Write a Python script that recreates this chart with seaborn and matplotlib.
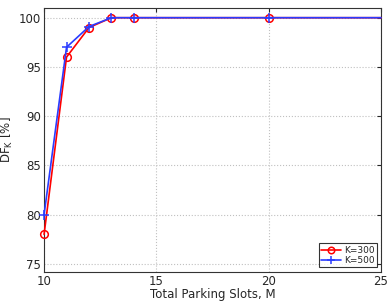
import pandas as pd
import numpy as np
import matplotlib.pyplot as plt
import seaborn as sns

slots = [10, 11, 12, 13, 14, 20, 25]
df_k300 = [78.0, 96.0, 99.0, 100.0, 100.0, 100.0, 100.0]
df_k500 = [80.0, 97.0, 99.1, 100.0, 100.0, 100.0, 100.0]

sns.set_style("white")
plt.rcParams['font.family'] = ['DejaVu Sans']

fig, ax = plt.subplots(figsize=(3.9, 3.02), dpi=100)
fig.subplots_adjust(left=0.113, right=0.977, top=0.974, bottom=0.1)

# last point sits on the axis edge, reference shows no marker there
marks = list(range(len(slots) - 1))

sns.lineplot(x=slots, y=df_k300, ax=ax, color='red', marker='o', markersize=5.5,
             markerfacecolor='none', markeredgecolor='red', markeredgewidth=1.1,
             linewidth=1.2, label='K=300', clip_on=False, markevery=marks, zorder=3)
sns.lineplot(x=slots, y=df_k500, ax=ax, color='#2a3cff', marker='+', markersize=6.5,
             markeredgecolor='#2a3cff', markeredgewidth=1.1, linewidth=1.2,
             label='K=500', clip_on=False, markevery=marks, zorder=4)

ax.set_xlim(10, 25)
ax.set_ylim(74.2, 101)
ax.set_xticks([10, 15, 20, 25])
ax.set_yticks([75, 80, 85, 90, 95, 100])
ax.tick_params(direction='in', labelsize=8.5, length=3, top=True, right=True, pad=2)
ax.grid(True, linestyle=':', color='#c0c0c0', linewidth=0.8)
for s in ax.spines.values():
    s.set_linewidth(0.8)
    s.set_color('#333333')

ax.set_xlabel("Total Parking Slots, M", fontsize=8.5, labelpad=0)
ax.set_ylabel("DF$_{\\mathregular{K}}$ [%]", fontsize=8.5, labelpad=3)

leg = ax.legend(loc='lower right', fontsize=6.5, frameon=True, fancybox=False,
                edgecolor='black', borderpad=0.25, handlelength=2.2, labelspacing=0.15,
                handletextpad=0.3, borderaxespad=0.5, markerscale=0.85)
leg.get_frame().set_linewidth(0.8)

plt.savefig("out.png", dpi=100)
